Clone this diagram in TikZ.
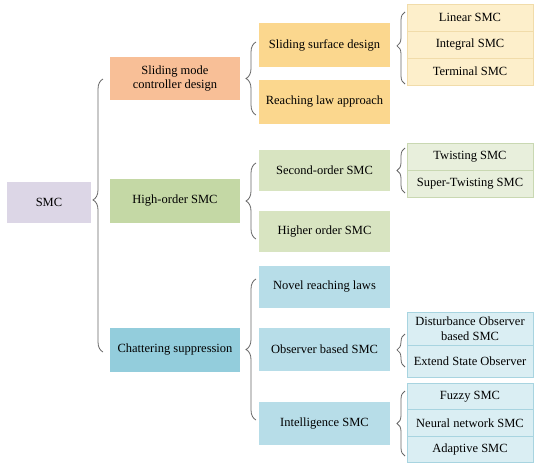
\documentclass[tikz,border=0pt]{standalone}
\usepackage{fontspec}
\setmainfont{LiberationSerif}[Extension=.ttf,UprightFont=*-Regular,BoldFont=*-Bold]
\usepackage{xcolor}
\usetikzlibrary{decorations.pathreplacing}

\definecolor{rootpurple}{HTML}{DCD6E6}
\definecolor{smcorange}{HTML}{F8BF97}
\definecolor{smcyellow}{HTML}{FBD78E}
\definecolor{smccream}{HTML}{FDEFCB}
\definecolor{creamline}{HTML}{F1DCAA}
\definecolor{hogreen}{HTML}{C4D8A5}
\definecolor{holight}{HTML}{D8E4C1}
\definecolor{hopale}{HTML}{E8EFDC}
\definecolor{greenline}{HTML}{C9D8B2}
\definecolor{chblue}{HTML}{93CDDC}
\definecolor{chlight}{HTML}{B7DDE8}
\definecolor{chpale}{HTML}{DAEEF3}
\definecolor{blueline}{HTML}{A8D4E0}
\definecolor{bracegray}{HTML}{666666}

\begin{document}
\begin{tikzpicture}[x=1pt,y=-1pt,
  font=\fontsize{12.5}{14.5}\selectfont,
  box/.style={inner sep=0pt,outer sep=0pt,minimum width=130pt,minimum height=43pt,align=center},
  leaf/.style={inner sep=0pt,outer sep=0pt,minimum width=126pt,minimum height=27pt,align=center,line width=0.8pt},
  brc/.style={decorate,draw=bracegray,line width=0.8pt,decoration={brace,amplitude=10pt,aspect=#1}},
  brc/.default=0.5]

\useasboundingbox (0,0) rectangle (534,464);

% root and first level
\node[box,fill=rootpurple,minimum width=84pt,minimum height=41pt] (smc) at (49,202.5) {SMC};

\node[box,fill=smcorange] (smcd) at (175,78.5) {Sliding mode\\controller design};
\node[box,fill=hogreen,minimum height=44pt] (ho) at (175,201) {High-order SMC};
\node[box,fill=chblue,minimum height=44pt] (cs) at (175,350) {Chattering suppression};

% second level
\node[box,fill=smcyellow,minimum width=131pt,minimum height=44pt] (ssd) at (324.5,45) {Sliding surface design};
\node[box,fill=smcyellow,minimum width=131pt,minimum height=44pt] (rla) at (324.5,102) {Reaching law approach};
\node[box,fill=holight,minimum width=131pt,minimum height=41pt] (so) at (324.5,170.5) {Second-order SMC};
\node[box,fill=holight,minimum width=131pt,minimum height=41pt] (hos) at (324.5,231.5) {Higher order SMC};
\node[box,fill=chlight,minimum width=131pt,minimum height=42pt] (nrl) at (324.5,287) {Novel reaching laws};
\node[box,fill=chlight,minimum width=131pt,minimum height=43pt] (obs) at (324.5,349.5) {Observer based SMC};
\node[box,fill=chlight,minimum width=131pt,minimum height=43pt] (int) at (324.5,423.5) {Intelligence SMC};

% third level
\node[leaf,fill=smccream,draw=creamline,anchor=north] (lin) at (470,4) {Linear SMC};
\node[leaf,fill=smccream,draw=creamline,anchor=north] (itg) at (lin.south) {Integral SMC};
\node[leaf,fill=smccream,draw=creamline,anchor=north] (ter) at (itg.south) {Terminal SMC};

\node[leaf,fill=hopale,draw=greenline,anchor=north] (tw) at (470,143) {Twisting SMC};
\node[leaf,fill=hopale,draw=greenline,anchor=north] (stw) at (tw.south) {Super-Twisting SMC};

\node[leaf,fill=chpale,draw=blueline,anchor=north,minimum height=33pt] (dob) at (470,312) {Disturbance Observer\\based SMC};
\node[leaf,fill=chpale,draw=blueline,anchor=north,minimum height=32pt] (eso) at (dob.south) {Extend State Observer};

\node[leaf,fill=chpale,draw=blueline,anchor=north,minimum height=26.5pt] (fz) at (470,383) {Fuzzy SMC};
\node[leaf,fill=chpale,draw=blueline,anchor=north,minimum height=26.5pt] (nn) at (fz.south) {Neural network SMC};
\node[leaf,fill=chpale,draw=blueline,anchor=north,minimum height=26.5pt] (ad) at (nn.south) {Adaptive SMC};

% brace ends
\coordinate (a1) at (103,352);  \coordinate (a2) at (103,79);
\coordinate (b1) at (256,115);  \coordinate (b2) at (256,42);
\coordinate (c1) at (256,239);  \coordinate (c2) at (256,163);
\coordinate (d1) at (256,420);  \coordinate (d2) at (256,279);
\coordinate (e1) at (405,84);   \coordinate (e2) at (405,12);
\coordinate (f1) at (405,193);  \coordinate (f2) at (405,148);
\coordinate (g1) at (405,367);  \coordinate (g2) at (405,334);
\coordinate (h1) at (405,456);  \coordinate (h2) at (405,391);

\draw[brc=0.557] (a1) -- (a2);
\draw[brc=0.5] (b1) -- (b2);
\draw[brc=0.5] (c1) -- (c2);
\draw[brc=0.5] (d1) -- (d2);
\draw[brc=0.53,decoration={amplitude=8pt}] (e1) -- (e2);
\draw[brc=0.5,decoration={amplitude=8pt}] (f1) -- (f2);
\draw[brc=0.52,decoration={amplitude=8pt}] (g1) -- (g2);
\draw[brc=0.5,decoration={amplitude=8pt}] (h1) -- (h2);

\end{tikzpicture}
\end{document}
